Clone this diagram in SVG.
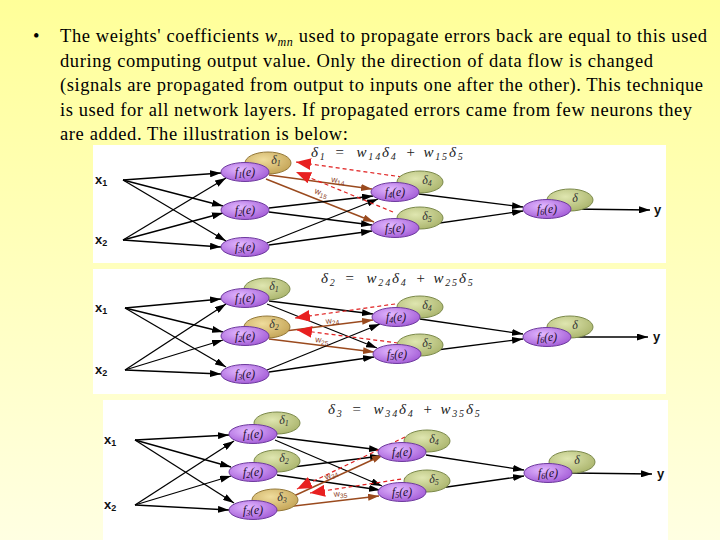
<svg xmlns="http://www.w3.org/2000/svg" width="720" height="540" viewBox="0 0 720 540">
<style>
.body{font-family:"Liberation Serif","Times New Roman",serif;font-size:18.5px;fill:#000}
.panel{fill:#fff}
.fn{fill:url(#gPurple);stroke:#6e3a9e;stroke-width:1}
.dg{fill:url(#gGreen);stroke:#7c8a4c;stroke-width:1}
.dt{fill:url(#gTan);stroke:#94793a;stroke-width:1}
.nl{font-family:"Liberation Serif","Times New Roman",serif;font-style:italic;font-size:11.5px;fill:#1b0a2c;text-anchor:middle}
.dl{font-family:"Liberation Serif","Times New Roman",serif;font-style:italic;font-size:12px;fill:#333;text-anchor:middle}
.io{font-family:"Liberation Sans",Arial,sans-serif;font-size:13px;font-weight:bold;fill:#111}
.fx{font-family:"Liberation Serif","Times New Roman",serif;font-style:italic;font-size:15px;letter-spacing:1.8px;fill:#222}
.wl{font-family:"Liberation Sans",Arial,sans-serif;font-size:8.5px;fill:#8a3a1a}
.k{stroke:#000;stroke-width:1.3;fill:none;marker-end:url(#aK)}
.b{stroke:#9a4a1e;stroke-width:1.4;fill:none;marker-end:url(#aB)}
.r{stroke:#e02020;stroke-width:1.2;stroke-dasharray:4 3;fill:none;marker-end:url(#aR)}
</style>
<defs>
<linearGradient id="bg" x1="0" y1="0" x2="0" y2="1">
<stop offset="0" stop-color="#ffff99"/>
<stop offset="1" stop-color="#ffffe2"/>
</linearGradient>
<radialGradient id="gPurple" cx="0.4" cy="0.35" r="0.7">
<stop offset="0" stop-color="#e2b8ff"/>
<stop offset="1" stop-color="#a25ad6"/>
</radialGradient>
<radialGradient id="gGreen" cx="0.4" cy="0.35" r="0.7">
<stop offset="0" stop-color="#dfe6b0"/>
<stop offset="1" stop-color="#aab46c"/>
</radialGradient>
<radialGradient id="gTan" cx="0.4" cy="0.35" r="0.7">
<stop offset="0" stop-color="#efdc9c"/>
<stop offset="1" stop-color="#c4a456"/>
</radialGradient>
<marker id="aK" markerUnits="userSpaceOnUse" markerWidth="11" markerHeight="7" refX="11" refY="3.5" orient="auto"><path d="M0,0 L11,3.5 L0,7 z" fill="#000"/></marker>
<marker id="aB" markerUnits="userSpaceOnUse" markerWidth="11" markerHeight="7" refX="11" refY="3.5" orient="auto"><path d="M0,0 L11,3.5 L0,7 z" fill="#9a4a1e"/></marker>
<marker id="aR" markerUnits="userSpaceOnUse" markerWidth="15" markerHeight="12" refX="15" refY="6" orient="auto"><path d="M0,0 L15,6 L0,12 z" fill="#e82020"/></marker>
</defs>

<rect x="0" y="0" width="720" height="540" fill="url(#bg)"/>

<g id="caption">
<text class="body" x="33" y="42">•</text>
<text class="body" x="60" y="42" textLength="647" lengthAdjust="spacing">The weights' coefficients <tspan font-style="italic">w</tspan><tspan font-style="italic" font-size="12" dy="4">mn</tspan><tspan dy="-4"> used to propagate errors back are equal to this used</tspan></text>
<text class="body" x="60" y="66.5" textLength="593" lengthAdjust="spacing">during computing output value. Only the direction of data flow is changed</text>
<text class="body" x="60" y="91" textLength="643" lengthAdjust="spacing">(signals are propagated from output to inputs one after the other). This technique</text>
<text class="body" x="60" y="115.5" textLength="632" lengthAdjust="spacing">is used for all network layers. If propagated errors came from few neurons they</text>
<text class="body" x="60" y="140" textLength="288" lengthAdjust="spacing">are added. The illustration is below:</text>
</g>

<g id="panels">
<rect class="panel" x="93" y="145" width="573" height="118"/>
<rect class="panel" x="93" y="269" width="573" height="125"/>
<rect class="panel" x="103" y="400" width="565" height="140"/>
</g>

<g id="connectors">
<!-- panel 1 -->
<line class="k" x1="123" y1="180" x2="221" y2="173"/>
<line class="k" x1="123" y1="180" x2="223" y2="206"/>
<line class="k" x1="123" y1="180" x2="226" y2="241"/>
<line class="k" x1="123" y1="240" x2="226" y2="178"/>
<line class="k" x1="123" y1="240" x2="223" y2="213"/>
<line class="k" x1="123" y1="240" x2="221" y2="247"/>
<line class="b" x1="269" y1="175" x2="372" y2="189"/>
<line class="b" x1="266" y1="179" x2="374" y2="222"/>
<line class="k" x1="269" y1="208" x2="373" y2="196"/>
<line class="k" x1="269" y1="212" x2="372" y2="225"/>
<line class="k" x1="267" y1="243" x2="378" y2="199"/>
<line class="k" x1="269" y1="245" x2="372" y2="231"/>
<line class="r" x1="402" y1="177" x2="296" y2="162"/>
<line class="r" x1="393" y1="212" x2="296" y2="172"/>
<line class="k" x1="419" y1="194" x2="523" y2="207"/>
<line class="k" x1="419" y1="226" x2="523" y2="211"/>
<line class="k" x1="571" y1="209" x2="650" y2="210"/>
<!-- panel 2 -->
<line class="k" x1="125" y1="308" x2="221" y2="299"/>
<line class="k" x1="125" y1="308" x2="223" y2="332"/>
<line class="k" x1="125" y1="308" x2="226" y2="367"/>
<line class="k" x1="125" y1="370" x2="226" y2="304"/>
<line class="k" x1="125" y1="370" x2="223" y2="340"/>
<line class="k" x1="125" y1="370" x2="221" y2="374"/>
<line class="k" x1="269" y1="301" x2="373" y2="314"/>
<line class="k" x1="267" y1="304" x2="377" y2="348"/>
<line class="b" x1="269" y1="333" x2="373" y2="320"/>
<line class="b" x1="269" y1="339" x2="374" y2="352"/>
<line class="k" x1="267" y1="370" x2="380" y2="324"/>
<line class="k" x1="269" y1="372" x2="374" y2="357"/>
<line class="r" x1="402" y1="303" x2="295" y2="318"/>
<line class="r" x1="398" y1="343" x2="297" y2="330"/>
<line class="k" x1="420" y1="319" x2="523" y2="334"/>
<line class="k" x1="421" y1="352" x2="523" y2="339"/>
<line class="k" x1="571" y1="337" x2="648" y2="337"/>
<!-- panel 3 -->
<line class="k" x1="135" y1="440" x2="229" y2="435"/>
<line class="k" x1="135" y1="440" x2="231" y2="467"/>
<line class="k" x1="135" y1="440" x2="234" y2="503"/>
<line class="k" x1="135" y1="505" x2="234" y2="441"/>
<line class="k" x1="135" y1="505" x2="231" y2="476"/>
<line class="k" x1="135" y1="505" x2="229" y2="510"/>
<line class="k" x1="277" y1="437" x2="380" y2="450"/>
<line class="k" x1="275" y1="440" x2="382" y2="486"/>
<line class="k" x1="277" y1="469" x2="381" y2="456"/>
<line class="k" x1="277" y1="475" x2="380" y2="490"/>
<line class="b" x1="272" y1="506" x2="383" y2="455"/>
<line class="b" x1="277" y1="508" x2="379" y2="496"/>
<line class="r" x1="405" y1="437" x2="297" y2="489"/>
<line class="r" x1="408" y1="478" x2="310" y2="493"/>
<line class="k" x1="426" y1="455" x2="524" y2="470"/>
<line class="k" x1="426" y1="490" x2="524" y2="476"/>
<line class="k" x1="572" y1="473" x2="652" y2="474"/>
</g>

<g id="weight-labels">
<text class="wl" transform="translate(331,182) rotate(8)">w<tspan font-size="6.5" dy="2">14</tspan></text>
<text class="wl" transform="translate(314,193) rotate(21)">w<tspan font-size="6.5" dy="2">15</tspan></text>
<text class="wl" transform="translate(326,324) rotate(-7)">w<tspan font-size="6.5" dy="2">24</tspan></text>
<text class="wl" transform="translate(315,342) rotate(7)">w<tspan font-size="6.5" dy="2">25</tspan></text>
<text class="wl" transform="translate(326,480) rotate(-24)">w<tspan font-size="6.5" dy="2">34</tspan></text>
<text class="wl" transform="translate(334,497) rotate(-6)">w<tspan font-size="6.5" dy="2">35</tspan></text>
</g>

<g id="formulas">
<text class="fx" x="311" y="157">δ<tspan font-size="10" dy="3">1</tspan><tspan dy="-3" dx="8">=</tspan><tspan dx="10">w</tspan><tspan font-size="10" dy="3">14</tspan><tspan dy="-3">δ</tspan><tspan font-size="10" dy="3">4</tspan><tspan dy="-3" dx="8">+</tspan><tspan dx="6">w</tspan><tspan font-size="10" dy="3">15</tspan><tspan dy="-3">δ</tspan><tspan font-size="10" dy="3">5</tspan></text>
<text class="fx" x="321" y="283">δ<tspan font-size="10" dy="3">2</tspan><tspan dy="-3" dx="8">=</tspan><tspan dx="10">w</tspan><tspan font-size="10" dy="3">24</tspan><tspan dy="-3">δ</tspan><tspan font-size="10" dy="3">4</tspan><tspan dy="-3" dx="8">+</tspan><tspan dx="6">w</tspan><tspan font-size="10" dy="3">25</tspan><tspan dy="-3">δ</tspan><tspan font-size="10" dy="3">5</tspan></text>
<text class="fx" x="328" y="414">δ<tspan font-size="10" dy="3">3</tspan><tspan dy="-3" dx="8">=</tspan><tspan dx="10">w</tspan><tspan font-size="10" dy="3">34</tspan><tspan dy="-3">δ</tspan><tspan font-size="10" dy="3">4</tspan><tspan dy="-3" dx="8">+</tspan><tspan dx="6">w</tspan><tspan font-size="10" dy="3">35</tspan><tspan dy="-3">δ</tspan><tspan font-size="10" dy="3">5</tspan></text>
</g>

<!-- panel 1 nodes -->
<g id="p1-x1"><text class="io" x="95" y="184">x<tspan font-size="9" dy="2">1</tspan></text></g>
<g id="p1-x2"><text class="io" x="95" y="244">x<tspan font-size="9" dy="2">2</tspan></text></g>
<g id="p1-f1"><ellipse class="dt" cx="268" cy="163" rx="23" ry="11"/><text class="dl" x="276" y="164">δ<tspan font-size="8" dy="2">1</tspan></text><ellipse class="fn" cx="245" cy="172" rx="24" ry="9.5"/><text class="nl" x="245" y="176">f<tspan font-size="8" dy="2">1</tspan><tspan dy="-2">(e)</tspan></text></g>
<g id="p1-f2"><ellipse class="fn" cx="245" cy="210" rx="24" ry="9.5"/><text class="nl" x="245" y="214">f<tspan font-size="8" dy="2">2</tspan><tspan dy="-2">(e)</tspan></text></g>
<g id="p1-f3"><ellipse class="fn" cx="245" cy="247" rx="24" ry="9.5"/><text class="nl" x="245" y="251">f<tspan font-size="8" dy="2">3</tspan><tspan dy="-2">(e)</tspan></text></g>
<g id="p1-f4"><ellipse class="dg" cx="420" cy="182" rx="23" ry="11"/><text class="dl" x="427" y="184">δ<tspan font-size="8" dy="2">4</tspan></text><ellipse class="fn" cx="395" cy="192" rx="24" ry="9.5"/><text class="nl" x="395" y="196">f<tspan font-size="8" dy="2">4</tspan><tspan dy="-2">(e)</tspan></text></g>
<g id="p1-f5"><ellipse class="dg" cx="420" cy="218" rx="23" ry="11"/><text class="dl" x="427" y="220">δ<tspan font-size="8" dy="2">5</tspan></text><ellipse class="fn" cx="395" cy="228" rx="24" ry="9.5"/><text class="nl" x="395" y="232">f<tspan font-size="8" dy="2">5</tspan><tspan dy="-2">(e)</tspan></text></g>
<g id="p1-f6"><ellipse class="dg" cx="570" cy="200" rx="23" ry="11"/><text class="dl" x="575" y="202">δ</text><ellipse class="fn" cx="547" cy="209" rx="24" ry="9.5"/><text class="nl" x="547" y="213">f<tspan font-size="8" dy="2">6</tspan><tspan dy="-2">(e)</tspan></text></g>
<g id="p1-y"><text class="io" x="654" y="214">y</text></g>

<!-- panel 2 nodes -->
<g id="p2-x1"><text class="io" x="95" y="312">x<tspan font-size="9" dy="2">1</tspan></text></g>
<g id="p2-x2"><text class="io" x="95" y="374">x<tspan font-size="9" dy="2">2</tspan></text></g>
<g id="p2-f1"><ellipse class="dg" cx="267" cy="289" rx="23" ry="11"/><text class="dl" x="274" y="290">δ<tspan font-size="8" dy="2">1</tspan></text><ellipse class="fn" cx="245" cy="298" rx="24" ry="9.5"/><text class="nl" x="245" y="302">f<tspan font-size="8" dy="2">1</tspan><tspan dy="-2">(e)</tspan></text></g>
<g id="p2-f2"><ellipse class="dt" cx="267" cy="327" rx="23" ry="11"/><text class="dl" x="274" y="328">δ<tspan font-size="8" dy="2">2</tspan></text><ellipse class="fn" cx="245" cy="336" rx="24" ry="9.5"/><text class="nl" x="245" y="340">f<tspan font-size="8" dy="2">2</tspan><tspan dy="-2">(e)</tspan></text></g>
<g id="p2-f3"><ellipse class="fn" cx="245" cy="374" rx="24" ry="9.5"/><text class="nl" x="245" y="378">f<tspan font-size="8" dy="2">3</tspan><tspan dy="-2">(e)</tspan></text></g>
<g id="p2-f4"><ellipse class="dg" cx="420" cy="307" rx="23" ry="11"/><text class="dl" x="427" y="309">δ<tspan font-size="8" dy="2">4</tspan></text><ellipse class="fn" cx="396" cy="317" rx="24" ry="9.5"/><text class="nl" x="396" y="321">f<tspan font-size="8" dy="2">4</tspan><tspan dy="-2">(e)</tspan></text></g>
<g id="p2-f5"><ellipse class="dg" cx="420" cy="345" rx="23" ry="11"/><text class="dl" x="427" y="347">δ<tspan font-size="8" dy="2">5</tspan></text><ellipse class="fn" cx="397" cy="354" rx="24" ry="9.5"/><text class="nl" x="397" y="358">f<tspan font-size="8" dy="2">5</tspan><tspan dy="-2">(e)</tspan></text></g>
<g id="p2-f6"><ellipse class="dg" cx="570" cy="327" rx="23" ry="11"/><text class="dl" x="575" y="329">δ</text><ellipse class="fn" cx="547" cy="337" rx="24" ry="9.5"/><text class="nl" x="547" y="341">f<tspan font-size="8" dy="2">6</tspan><tspan dy="-2">(e)</tspan></text></g>
<g id="p2-y"><text class="io" x="653" y="341">y</text></g>

<!-- panel 3 nodes -->
<g id="p3-x1"><text class="io" x="104" y="444">x<tspan font-size="9" dy="2">1</tspan></text></g>
<g id="p3-x2"><text class="io" x="104" y="509">x<tspan font-size="9" dy="2">2</tspan></text></g>
<g id="p3-f1"><ellipse class="dg" cx="277" cy="423" rx="23" ry="11"/><text class="dl" x="284" y="424">δ<tspan font-size="8" dy="2">1</tspan></text><ellipse class="fn" cx="253" cy="434" rx="24" ry="9.5"/><text class="nl" x="253" y="438">f<tspan font-size="8" dy="2">1</tspan><tspan dy="-2">(e)</tspan></text></g>
<g id="p3-f2"><ellipse class="dg" cx="277" cy="461" rx="23" ry="11"/><text class="dl" x="284" y="462">δ<tspan font-size="8" dy="2">2</tspan></text><ellipse class="fn" cx="253" cy="472" rx="24" ry="9.5"/><text class="nl" x="253" y="476">f<tspan font-size="8" dy="2">2</tspan><tspan dy="-2">(e)</tspan></text></g>
<g id="p3-f3"><ellipse class="dt" cx="275" cy="500" rx="23" ry="11"/><text class="dl" x="282" y="501">δ<tspan font-size="8" dy="2">3</tspan></text><ellipse class="fn" cx="253" cy="510" rx="24" ry="9.5"/><text class="nl" x="253" y="514">f<tspan font-size="8" dy="2">3</tspan><tspan dy="-2">(e)</tspan></text></g>
<g id="p3-f4"><ellipse class="dg" cx="427" cy="441" rx="23" ry="11"/><text class="dl" x="434" y="443">δ<tspan font-size="8" dy="2">4</tspan></text><ellipse class="fn" cx="402" cy="452" rx="24" ry="9.5"/><text class="nl" x="402" y="456">f<tspan font-size="8" dy="2">4</tspan><tspan dy="-2">(e)</tspan></text></g>
<g id="p3-f5"><ellipse class="dg" cx="427" cy="481" rx="23" ry="11"/><text class="dl" x="434" y="483">δ<tspan font-size="8" dy="2">5</tspan></text><ellipse class="fn" cx="402" cy="492" rx="24" ry="9.5"/><text class="nl" x="402" y="496">f<tspan font-size="8" dy="2">5</tspan><tspan dy="-2">(e)</tspan></text></g>
<g id="p3-f6"><ellipse class="dg" cx="572" cy="462" rx="23" ry="11"/><text class="dl" x="577" y="464">δ</text><ellipse class="fn" cx="548" cy="473" rx="24" ry="9.5"/><text class="nl" x="548" y="477">f<tspan font-size="8" dy="2">6</tspan><tspan dy="-2">(e)</tspan></text></g>
<g id="p3-y"><text class="io" x="657" y="478">y</text></g>
</svg>
